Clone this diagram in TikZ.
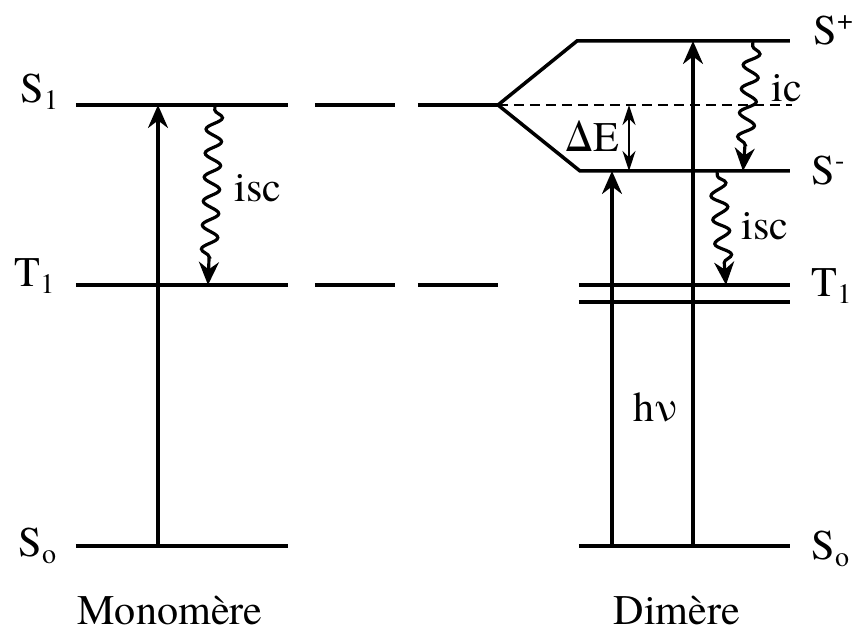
\documentclass[tikz,border=0pt]{standalone}
\usepackage{fontspec}
\IfFontExistsTF{texgyretermes-regular.otf}
  {\setmainfont{texgyretermes-regular.otf}}
  {\setmainfont{Liberation Serif}}
\usetikzlibrary{arrows.meta,decorations.pathmorphing}

\begin{document}
\begin{tikzpicture}[>={Stealth[length=2.3mm,width=2mm]},line width=0.9pt,
    font=\fontsize{12}{14}\selectfont,
    level/.style={line width=1pt},
    longdash/.style={level,dash pattern=on 0pt off 2.7mm on 8mm off 2.3mm on 8mm},
    wavy/.style={->,decorate,decoration={snake,amplitude=0.8mm,segment length=2.4mm,
      pre length=0.5mm,post length=2.2mm}},
    lab/.style={anchor=base west,inner sep=0pt}]
  \useasboundingbox (0,0) rectangle (8.56,6.33);

  % monomere levels
  \coordinate (mS1a) at (0.76,5.28); \coordinate (mS1b) at (2.88,5.28);
  \coordinate (mT1a) at (0.76,3.48); \coordinate (mT1b) at (2.88,3.48);
  \coordinate (mS0a) at (0.76,0.87); \coordinate (mS0b) at (2.88,0.87);
  \draw[level] (mS1a) -- (mS1b);
  \draw[level] (mT1a) -- (mT1b);
  \draw[level] (mS0a) -- (mS0b);
  \node[lab] (lS1) at (0.19,5.30) {S\textsubscript{1}};
  \node[lab] (lT1) at (0.13,3.46) {T\textsubscript{1}};
  \node[lab] (lS0) at (0.17,0.76) {S\textsubscript{o}};
  \node[anchor=base] (mono) at (1.70,0.08) {Monomère};

  % correlation dashes
  \coordinate (tip) at (4.98,5.28);
  \coordinate (dT1c) at (4.98,3.48);
  \draw[longdash] (mS1b) -- (tip);
  \draw[longdash] (mT1b) -- (dT1c);

  % dimere levels
  \coordinate (dSpa) at (5.77,5.92); \coordinate (dSpb) at (7.90,5.92);
  \coordinate (dSma) at (5.80,4.62); \coordinate (dSmb) at (7.90,4.62);
  \coordinate (dT1a) at (5.79,3.48); \coordinate (dT1b) at (7.90,3.48);
  \coordinate (dT2a) at (5.79,3.31); \coordinate (dT2b) at (7.90,3.31);
  \coordinate (dS0a) at (5.79,0.87); \coordinate (dS0b) at (7.90,0.87);
  \coordinate (dmid) at (7.92,5.28);
  \draw[level] (tip) -- (dSpa) -- (dSpb);
  \draw[level] (tip) -- (dSma) -- (dSmb);
  \draw[line width=0.7pt,dash pattern=on 1mm off 0.6mm] (tip) -- (dmid);
  \draw[level] (dT1a) -- (dT1b);
  \draw[level] (dT2a) -- (dT2b);
  \draw[level] (dS0a) -- (dS0b);
  \node[lab] (lSp) at (8.12,5.88) {S\textsuperscript{+}};
  \node[lab] (lSm) at (8.10,4.48) {S\textsuperscript{-}};
  \node[lab] (lT1d) at (8.10,3.36) {T\textsubscript{1}};
  \node[lab] (lS0d) at (8.10,0.73) {S\textsubscript{o}};
  \node[anchor=base] (dim) at (6.77,0.08) {Dimère};

  % transitions
  \coordinate (mexa) at (1.58,0.87); \coordinate (mexb) at (1.58,5.28);
  \coordinate (miscA) at (2.15,5.28); \coordinate (miscB) at (2.08,3.48);
  \draw[->] (mexa) -- (mexb);
  \draw[wavy] (miscA) -- (miscB);
  \node[lab] (tmisc) at (2.33,4.31) {isc};

  \coordinate (hva) at (6.12,0.87); \coordinate (hvb) at (6.12,4.62);
  \coordinate (exa) at (6.93,0.87); \coordinate (exb) at (6.93,5.92);
  \coordinate (dEa) at (6.29,5.28); \coordinate (dEb) at (6.29,4.62);
  \coordinate (icA) at (7.53,5.92); \coordinate (icB) at (7.43,4.62);
  \coordinate (discA) at (7.17,4.62); \coordinate (discB) at (7.26,3.48);
  \draw[->] (hva) -- (hvb);
  \draw[->] (exa) -- (exb);
  \draw[{Stealth[length=2mm,width=1.3mm]}-{Stealth[length=2mm,width=1.3mm]},line width=0.7pt] (dEa) -- (dEb);
  \draw[wavy] (icA) -- (icB);
  \draw[wavy] (discA) -- (discB);
  \node[lab] (thv) at (6.32,2.11) {hν};
  \node[lab] (tdE) at (5.64,4.81) {ΔE};
  \node[lab] (tic) at (7.70,5.31) {ic};
  \node[lab] (tdisc) at (7.40,3.93) {isc};
\end{tikzpicture}
\end{document}
